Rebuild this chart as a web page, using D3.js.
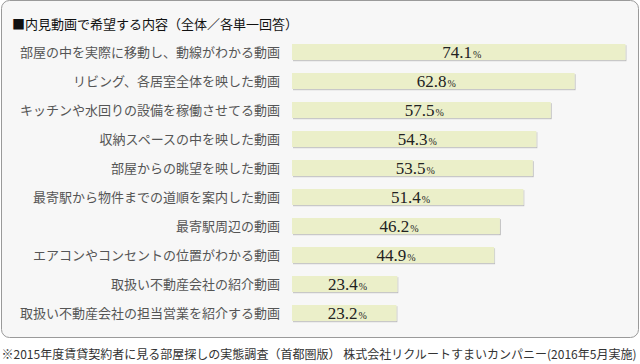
<!DOCTYPE html>
<html><head><meta charset="utf-8">
<script src="https://cdn.jsdelivr.net/npm/d3@7"></script>
<style>
html,body{margin:0;padding:0;background:#fff;}
svg{display:block;}
</style></head>
<body>
<script>
const title = "■内見動画で希望する内容（全体／各単一回答）";
const categories = [
  "部屋の中を実際に移動し、動線がわかる動画",
  "リビング、各居室全体を映した動画",
  "キッチンや水回りの設備を稼働させてる動画",
  "収納スペースの中を映した動画",
  "部屋からの眺望を映した動画",
  "最寄駅から物件までの道順を案内した動画",
  "最寄駅周辺の動画",
  "エアコンやコンセントの位置がわかる動画",
  "取扱い不動産会社の紹介動画",
  "取扱い不動産会社の担当営業を紹介する動画"
];
const values = [74.1, 62.8, 57.5, 54.3, 53.5, 51.4, 46.2, 44.9, 23.4, 23.2];
const footnote = "※2015年度賃貸契約者に見る部屋探しの実態調査（首都圏版） 株式会社リクルートすまいカンパニー(2016年5月実施)";

const W = 640, H = 364;
const svg = d3.select("body").append("svg").attr("width", W).attr("height", H);
const defs = svg.append("defs");
const f = defs.append("filter").attr("id","sh").attr("x","-5%").attr("y","-20%").attr("width","110%").attr("height","160%");
f.append("feDropShadow").attr("dx",1).attr("dy",1.2).attr("stdDeviation",0.6).attr("flood-color","#000").attr("flood-opacity",0.22);

svg.append("rect").attr("x",1.5).attr("y",0.5).attr("width",637).attr("height",337)
  .attr("rx",8).attr("ry",8).attr("fill","#f7f7f7").attr("stroke","#9a9a9a").attr("stroke-width",1);

svg.append("text").attr("x",12).attr("y",29).attr("font-family","'Noto Sans CJK JP', sans-serif")
  .attr("font-size",13).attr("fill","#111").text(title);

const x = d3.scaleLinear().domain([0,100]).range([292,742]);
const y = d3.scaleBand().domain(categories).range([37.5,327.5]).paddingInner(0.448).paddingOuter(0.224);

const g = svg.append("g");
g.selectAll("rect.bar").data(categories).join("rect").attr("class","bar")
  .attr("x", x(0)).attr("y", d=>y(d)).attr("width", (d,i)=>x(values[i])-x(0)).attr("height", y.bandwidth())
  .attr("fill","#ebefc9").attr("filter","url(#sh)");

g.selectAll("text.lab").data(categories).join("text").attr("class","lab")
  .attr("x",280).attr("y",d=>y(d)+y.bandwidth()/2).attr("dy","0.36em")
  .attr("text-anchor","end").attr("font-family","'Noto Sans CJK JP', sans-serif")
  .attr("font-size",13).attr("fill","#555").text(d=>d);

const vt = g.selectAll("text.val").data(categories).join("text").attr("class","val")
  .attr("x",(d,i)=>(x(0)+x(values[i]))/2 + 3).attr("y",d=>y(d)+y.bandwidth()/2+6.3)
  .attr("text-anchor","middle").attr("font-family","'Liberation Serif', 'Times New Roman', serif")
  .attr("fill","#222");
vt.append("tspan").attr("font-size",17).text((d,i)=>values[i].toFixed(1));
vt.append("tspan").attr("font-size",10).attr("dx",1).text("%");

svg.append("text").attr("x",1.5).attr("y",358.5).attr("font-family","'Noto Sans CJK JP', sans-serif")
  .attr("font-size",12).attr("fill","#333").attr("textLength",635).attr("lengthAdjust","spacingAndGlyphs")
  .text(footnote);
</script>
</body></html>
